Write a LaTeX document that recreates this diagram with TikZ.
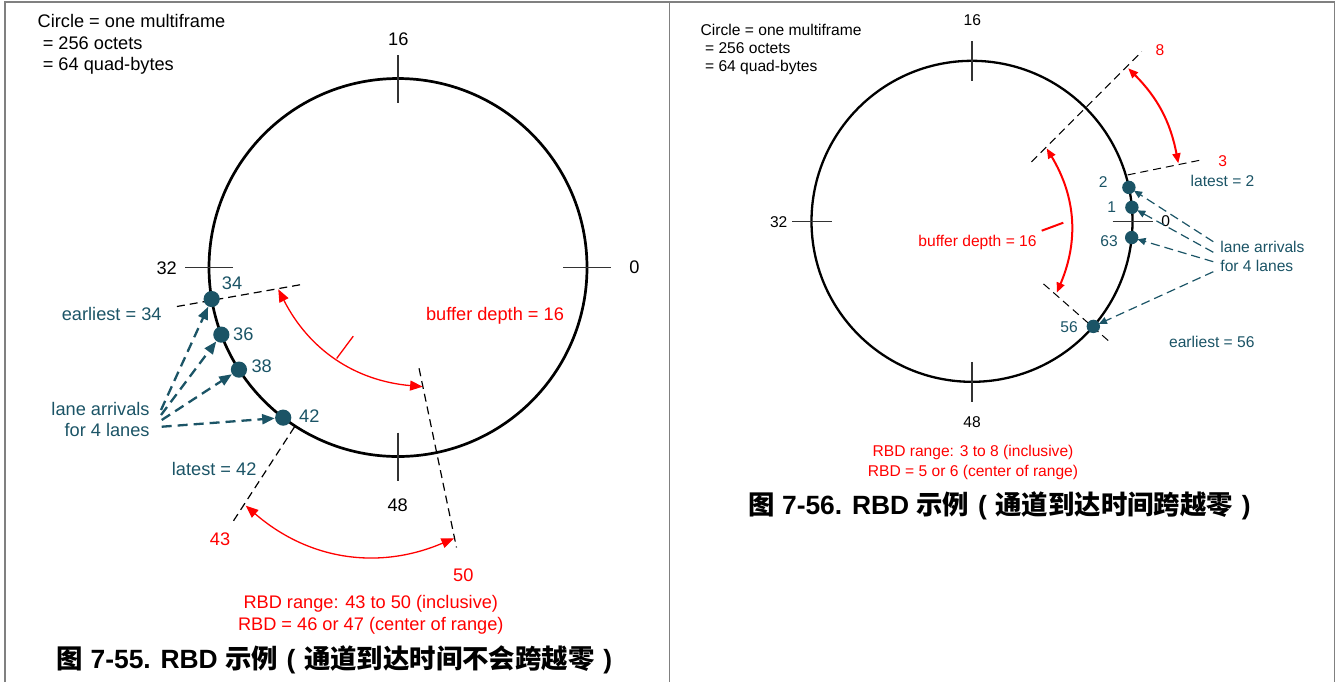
\documentclass[tikz,border=0pt]{standalone}
\usepackage{fontspec}
\setmainfont{Liberation Sans}
\newfontfamily\cjk{Noto Sans CJK SC}
\usetikzlibrary{arrows.meta}
\definecolor{laneblue}{HTML}{1B5466}
\definecolor{framegray}{gray}{0.5}
\definecolor{tickgray}{gray}{0.2}
\newcommand\lpar{\hspace{.33em}(\hspace{.33em}}
\newcommand\rpar{\hspace{.33em})\hspace{.33em}}

\begin{document}
\begin{tikzpicture}[x=0.5pt,y=-0.5pt,
txt/.style={inner sep=0,anchor=base,font=\fontsize{9.1}{10.8}\selectfont},
txts/.style={inner sep=0,anchor=base,font=\fontsize{7.8}{9.4}\selectfont},
caption/.style={inner sep=0,anchor=base,font=\fontsize{13.2}{15}\selectfont\bfseries},
rim/.style={line width=1.35pt},
rims/.style={line width=1.15pt},
tickmark/.style={tickgray,line width=0.65pt},
guide/.style={line width=0.6pt,dash pattern=on 4pt off 2.5pt},
guides/.style={line width=0.5pt,dash pattern=on 4pt off 2.5pt},
arrival/.style={circle,fill=laneblue,inner sep=0,minimum size=8.1pt},
arrivals/.style={circle,fill=laneblue,inner sep=0,minimum size=6.7pt},
lanearrow/.style={laneblue,line width=1.15pt,dash pattern=on 5pt off 3pt,-{Triangle[length=6.3pt,width=5pt]}},
lanearrows/.style={laneblue,line width=0.6pt,dash pattern=on 4.5pt off 2.5pt,-{Triangle[length=4pt,width=3.6pt]},shorten >=-0.5pt},
span/.style={red,line width=0.65pt,{Triangle[length=6.3pt,width=5pt]}-{Triangle[length=6.3pt,width=5pt]}},
spans/.style={red,line width=1pt,{Triangle[length=5pt,width=4pt]}-{Triangle[length=5pt,width=4pt]}}]
\useasboundingbox (0,0) rectangle (1336,682);
\draw[framegray,line width=0.85pt] (4.8,682) -- (4.8,1.8) -- (1334.5,1.8) -- (1334.5,682);
\draw[framegray,line width=0.85pt] (669.5,1.8) -- (669.5,682);

% no crossing of zero
\begin{scope}[shift={(398,267.5)},y=0.5pt]
\draw[rim] (0,0) circle[radius=189];
\foreach \a in {0,90,180,270} \draw[tickmark] (\a:165) -- (\a:213);
\draw[guide] (190:99.5) -- (190:228.6);
\draw[guide] (237:190) -- (237:303);
\draw[guide] (281.8:103) -- (281.8:286);
\node[arrival] (e34) at (189.6:189) {};
\node[arrival] (e36) at (200.8:189) {};
\node[arrival] (e38) at (212.7:189) {};
\node[arrival] (e42) at (232.6:189) {};
\coordinate (bdA) at (190.3:121.7);
\coordinate (bdB) at (281.7:121.7);
\coordinate (rgA) at (237.4:282.7);
\coordinate (rgB) at (281.7:276.5);
\end{scope}
\draw[span] (bdA) to[bend right=29] coordinate[pos=.5] (bdM) (bdB);
\draw[red,line width=0.65pt] (bdM) -- ++(16.6,-22.3);
\draw[span] (rgA) to[bend right=32] (rgB);
\node[txt,align=left,anchor=base west] (legend) at (37.3,70.7)
  {Circle = one multiframe\\\hspace*{.28em}= 256 octets\\\hspace*{.28em}= 64 quad-bytes};
\node[txt] (n16) at (398.3,45.2) {16};
\node[txt] (n32) at (166.7,274) {32};
\node[txt] (n0) at (634.3,273.8) {0};
\node[txt] (n48) at (397.7,511.5) {48};
\node[txt,laneblue] (t34) at (232,289.2) {34};
\node[txt,laneblue] (t36) at (243.3,340.5) {36};
\node[txt,laneblue] (t38) at (261.7,372.5) {38};
\node[txt,laneblue] (t42) at (309.3,422.5) {42};
\node[txt,red] (t43) at (220,545.8) {43};
\node[txt,red] (t50) at (463.3,581.5) {50};
\node[txt,laneblue] (early) at (111.7,320) {earliest = 34};
\node[txt,laneblue] (late) at (214.2,475) {latest = 42};
\node[txt,red] (depth) at (495,320.7) {buffer depth = 16};
\node[txt,laneblue,align=right,anchor=base east,font=\fontsize{9.1}{10.5}\selectfont] (lanes) at (150,436.7) {lane arrivals\\for 4 lanes};
\node[txt,red,align=center] (range) at (370.8,630)
  {RBD range: 43 to 50 (inclusive)\\RBD = 46 or 47 (center of range)};
\coordinate (la1) at (161,410);
\coordinate (la2) at (161,415);
\coordinate (la3) at (161.7,420);
\coordinate (la4) at (161.7,426.7);
\draw[lanearrow] (la1) -- (e34);
\draw[lanearrow] (la2) -- (e36);
\draw[lanearrow] (la3) -- (e38);
\draw[lanearrow] (la4) -- (e42);
\node[caption] (capL) at (334.5,668.3)
  {{\cjk 图} 7-55. RBD {\cjk 示例}\lpar{\cjk 通道到达时间不会跨越零}\rpar};

% crossing of zero
\begin{scope}[shift={(972,221.3)},y=0.5pt]
\draw[rims] (0,0) circle[radius=160.5];
\foreach \a in {0,90,180,270} \draw[tickmark] (\a:140.5) -- (\a:180.5);
\draw[guides] (45:84) -- (45:240);
\draw[guides] (16.6:162.4) -- (15:236);
\draw[guides] (-41.2:95) -- (-41.2:184);
\node[arrivals] (w2) at (12.2:160.5) {};
\node[arrivals] (w1) at (5:160.5) {};
\node[arrivals] (w63) at (-5.8:160.5) {};
\node[arrivals] (w56) at (-40.9:160.5) {};
\coordinate (wA) at (44.4:218.7);
\coordinate (wB) at (15.7:214.3);
\coordinate (wdA) at (44.3:104.4);
\coordinate (wdB) at (-40.1:110.8);
\end{scope}
\draw[spans] (wA) to[bend left=17] (wB);
\draw[spans] (wdA) to[bend left=27] (wdB);
\coordinate (wdS) at (1041.7,230.7);
\coordinate (wdT) at (1063.3,222.7);
\draw[red,line width=1pt] (wdS) -- (wdT);
\node[txts,align=left,anchor=base west,font=\fontsize{7.8}{9.15}\selectfont] (legendR) at (700.3,71.7)
  {Circle = one multiframe\\\hspace*{.28em}= 256 octets\\\hspace*{.28em}= 64 quad-bytes};
\node[txts] (m16) at (972.3,25.6) {16};
\node[txts] (m32) at (778.7,227.3) {32};
\node[txts] (m0) at (1165.7,226.6) {0};
\node[txts] (m48) at (972,427.9) {48};
\node[txts,laneblue] (s2) at (1103.3,187.3) {2};
\node[txts,laneblue] (s1) at (1111.7,212.9) {1};
\node[txts,laneblue] (s63) at (1109,246.3) {63};
\node[txts,laneblue] (s56) at (1069,332.3) {56};
\node[txts,red] (s3) at (1222.7,166.3) {3};
\node[txts,red] (s8) at (1160,55.6) {8};
\node[txts,laneblue] (lateR) at (1222.5,186.3) {latest = 2};
\node[txts,laneblue] (earlyR) at (1211.8,347.3) {earliest = 56};
\node[txts,red] (depthR) at (977.5,246.3) {buffer depth = 16};
\node[txts,laneblue,align=left,anchor=base west,font=\fontsize{7.8}{9.7}\selectfont] (lanesR) at (1220,271.7) {lane arrivals\\for 4 lanes};
\node[txts,red,align=center,font=\fontsize{7.8}{9.65}\selectfont] (rangeR) at (973,476)
  {RBD range: 3 to 8 (inclusive)\\RBD = 5 or 6 (center of range)};
\coordinate (ra1) at (1213.3,241.7);
\coordinate (ra2) at (1213.3,252.3);
\coordinate (ra3) at (1213.3,261.7);
\coordinate (ra4) at (1213.3,271.7);
\draw[lanearrows] (ra1) -- (w2);
\draw[lanearrows] (ra2) -- (w1);
\draw[lanearrows] (ra3) -- (w63);
\draw[lanearrows] (ra4) -- (w56);
\node[caption] (capR) at (999.5,514)
  {{\cjk 图} 7-56. RBD {\cjk 示例}\lpar{\cjk 通道到达时间跨越零}\rpar};
\end{tikzpicture}
\end{document}
